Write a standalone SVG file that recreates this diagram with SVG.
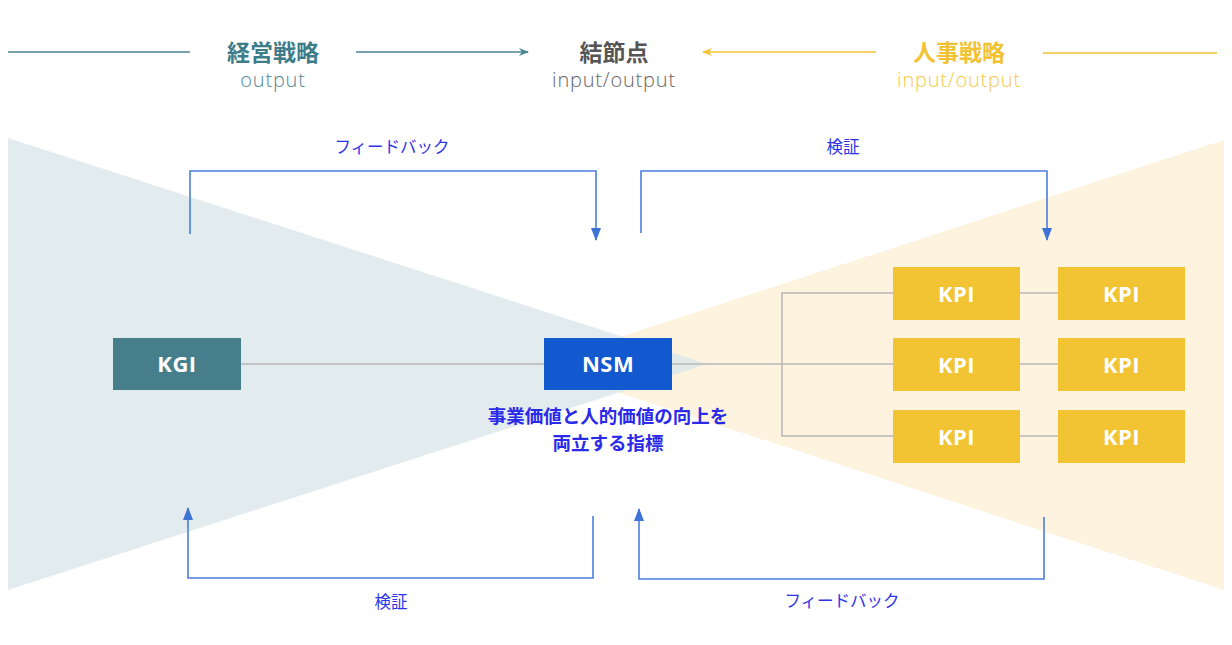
<svg xmlns="http://www.w3.org/2000/svg" width="1232" height="645" viewBox="0 0 1232 645">
<style>
.jp{font-family:"Noto Sans CJK JP","Noto Sans",sans-serif}
.lat{font-family:"Open Sans","Noto Sans",sans-serif}
.hd{font-size:23px;font-weight:700;text-anchor:middle}
.sub{font-size:20px;font-weight:300;text-anchor:middle;letter-spacing:0.8px}
.lbl{font-size:16.5px;fill:#2e33e8;text-anchor:middle}
.box-t{font-family:"Open Sans","Noto Sans",sans-serif;font-size:22px;font-weight:700;fill:#ffffff;text-anchor:middle;letter-spacing:0.5px}
.kpi rect{fill:#f2c332}
.conn{stroke:#b8b8b8;stroke-width:1.5;fill:none}
.fb{stroke:#4c7fdd;stroke-width:1.6;fill:none}
</style>
<defs>
<marker id="ab" markerWidth="13" markerHeight="10" refX="12" refY="5" orient="auto" markerUnits="userSpaceOnUse" viewBox="0 0 13 10">
<path d="M0,0 L13,5 L0,10 Z" fill="#3f72d6"/>
</marker>
<marker id="at" markerWidth="10" markerHeight="10" refX="9" refY="5" orient="auto" markerUnits="userSpaceOnUse" viewBox="0 0 10 10">
<path d="M0,1 L10,5 L0,9 L3,5 Z" fill="#4a8593"/>
</marker>
<marker id="ay" markerWidth="10" markerHeight="10" refX="9" refY="5" orient="auto" markerUnits="userSpaceOnUse" viewBox="0 0 10 10">
<path d="M0,1 L10,5 L0,9 L3,5 Z" fill="#f3c332"/>
</marker>
</defs>
<rect width="1232" height="645" fill="#ffffff"/>
<!-- background funnels -->
<polygon points="1224,140 1224,590 534,365" fill="#fdf3df"/>
<polygon points="8,138 707,364 8,590" fill="#dde7ea" opacity="0.85"/>

<!-- header -->
<g id="header">
<line x1="8" y1="52" x2="190" y2="52" stroke="#4a8593" stroke-width="1.6"/>
<line x1="356" y1="52" x2="528" y2="52" stroke="#4a8593" stroke-width="1.6" marker-end="url(#at)"/>
<line x1="876" y1="52" x2="703" y2="52" stroke="#f3c332" stroke-width="1.6" marker-end="url(#ay)"/>
<line x1="1043" y1="53" x2="1217" y2="53" stroke="#f3c332" stroke-width="1.6"/>
<text class="jp hd" x="273" y="61" fill="#3d7c89">経営戦略</text>
<text class="lat sub" x="273" y="87" fill="#4f8997">output</text>
<text class="jp hd" x="614" y="61" fill="#555555">結節点</text>
<text class="lat sub" x="614" y="87" fill="#666666">input/output</text>
<text class="jp hd" x="959" y="61" fill="#f2c233">人事戦略</text>
<text class="lat sub" x="959" y="87" fill="#f5ca4c">input/output</text>
</g>

<!-- connectors -->
<g id="connectors">
<line class="conn" x1="241" y1="364" x2="544" y2="364"/>
<line class="conn" x1="672" y1="364" x2="893" y2="364"/>
<polyline class="conn" points="893,293 782,293 782,436 893,436"/>
<line class="conn" x1="1020" y1="293" x2="1058" y2="293"/>
<line class="conn" x1="1020" y1="364" x2="1058" y2="364"/>
<line class="conn" x1="1020" y1="436" x2="1058" y2="436"/>
<polyline class="fb" points="190,234 190,171 596,171 596,240" marker-end="url(#ab)"/>
<polyline class="fb" points="641,233 641,171 1047,171 1047,240" marker-end="url(#ab)"/>
<polyline class="fb" points="593,516 593,578 188,578 188,508" marker-end="url(#ab)"/>
<polyline class="fb" points="1044,517 1044,579 639,579 639,509" marker-end="url(#ab)"/>
<text class="jp lbl" x="392" y="153">フィードバック</text>
<text class="jp lbl" x="843" y="153">検証</text>
<text class="jp lbl" x="391" y="608">検証</text>
<text class="jp lbl" x="842" y="607">フィードバック</text>
</g>

<!-- nodes -->
<g id="kgi">
<rect x="113" y="338" width="128" height="52" fill="#467f8b"/>
<text class="box-t" x="177" y="372">KGI</text>
</g>
<g id="nsm">
<rect x="544" y="338" width="128" height="52" fill="#1259cf"/>
<text class="box-t" x="608" y="372">NSM</text>
<text class="jp" font-size="18.5" font-weight="700" fill="#2a2ae8" text-anchor="middle"><tspan x="608" y="423">事業価値と人的価値の向上を</tspan><tspan x="608" y="450">両立する指標</tspan></text>
</g>
<g id="kpi1" class="kpi"><rect x="893" y="267" width="127" height="53"/><text class="box-t" x="956.5" y="302">KPI</text></g>
<g id="kpi2" class="kpi"><rect x="1058" y="267" width="127" height="53"/><text class="box-t" x="1121.5" y="302">KPI</text></g>
<g id="kpi3" class="kpi"><rect x="893" y="338" width="127" height="53"/><text class="box-t" x="956.5" y="373">KPI</text></g>
<g id="kpi4" class="kpi"><rect x="1058" y="338" width="127" height="53"/><text class="box-t" x="1121.5" y="373">KPI</text></g>
<g id="kpi5" class="kpi"><rect x="893" y="410" width="127" height="53"/><text class="box-t" x="956.5" y="445">KPI</text></g>
<g id="kpi6" class="kpi"><rect x="1058" y="410" width="127" height="53"/><text class="box-t" x="1121.5" y="445">KPI</text></g>
</svg>
